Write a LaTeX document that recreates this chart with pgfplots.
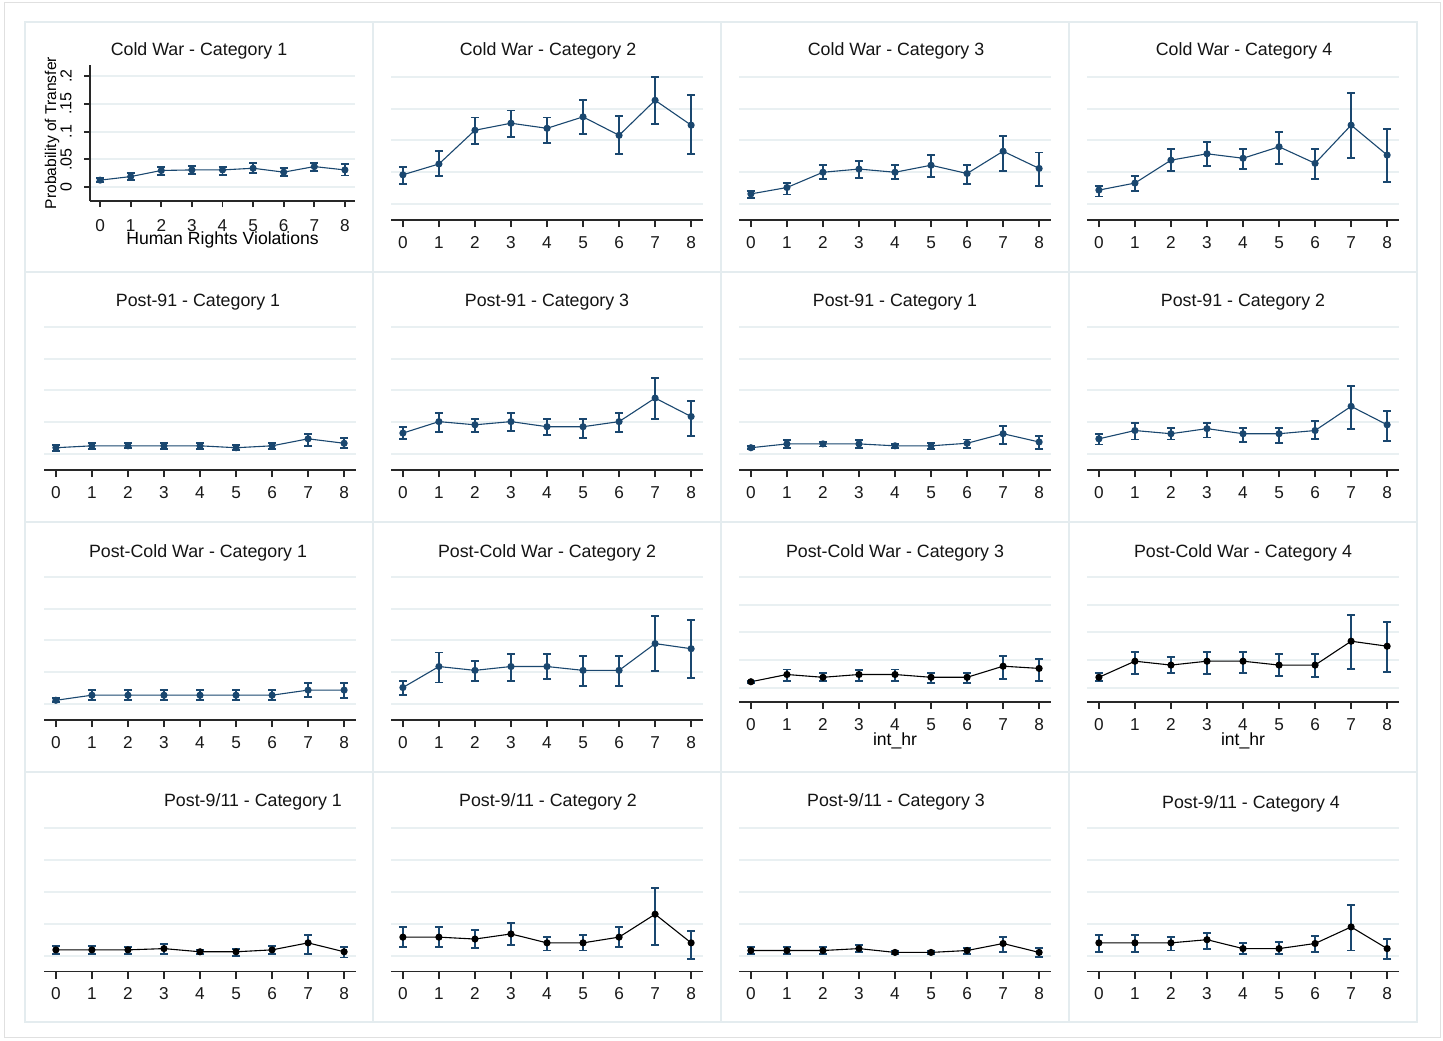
\documentclass[border=0pt]{standalone}
\usepackage{fontspec}
\setmainfont{Liberation Sans}
\usepackage{pgfplots}
\usepackage{pgfplotstable}
\pgfplotsset{compat=1.18}

\definecolor{stnavy}{RGB}{26,71,111}
\definecolor{gridc}{RGB}{233,240,242}
\definecolor{framec}{RGB}{228,236,239}
\definecolor{axisc}{RGB}{40,40,40}

% columns: hr level, predicted probability, lower and upper CI bound
\pgfplotstableread{
x y lo hi
0 0.0126 0.009 0.016
1 0.019 0.013 0.025
2 0.030 0.022 0.036
3 0.031 0.024 0.038
4 0.031 0.022 0.037
5 0.034 0.025 0.043
6 0.027 0.020 0.034
7 0.037 0.029 0.044
8 0.031 0.021 0.041
}\cwA
\pgfplotstableread{
x y lo hi
0 0.046 0.031 0.058
1 0.063 0.044 0.083
2 0.116 0.094 0.136
3 0.127 0.105 0.147
4 0.119 0.096 0.136
5 0.137 0.110 0.163
6 0.108 0.078 0.139
7 0.163 0.126 0.199
8 0.124 0.078 0.171
}\cwB
\pgfplotstableread{
x y lo hi
0 0.016 0.010 0.020
1 0.026 0.015 0.033
2 0.050 0.039 0.062
3 0.055 0.041 0.068
4 0.050 0.039 0.062
5 0.061 0.043 0.077
6 0.048 0.031 0.062
7 0.083 0.052 0.107
8 0.056 0.028 0.081
}\cwC
\pgfplotstableread{
x y lo hi
0 0.022 0.012 0.028
1 0.033 0.020 0.044
2 0.069 0.052 0.086
3 0.079 0.060 0.097
4 0.072 0.055 0.086
5 0.090 0.063 0.113
6 0.064 0.039 0.086
7 0.124 0.073 0.174
8 0.077 0.034 0.118
}\cwD
\pgfplotstableread{
x y lo hi
0 0.010 0.005 0.014
1 0.013 0.008 0.017
2 0.013 0.009 0.017
3 0.013 0.008 0.018
4 0.013 0.008 0.017
5 0.010 0.006 0.014
6 0.013 0.008 0.018
7 0.024 0.013 0.031
8 0.017 0.009 0.025
}\pnA
\pgfplotstableread{
x y lo hi
0 0.033 0.024 0.042
1 0.051 0.034 0.065
2 0.046 0.034 0.055
3 0.051 0.036 0.065
4 0.043 0.030 0.055
5 0.043 0.025 0.055
6 0.051 0.034 0.065
7 0.088 0.055 0.119
8 0.059 0.029 0.084
}\pnB
\pgfplotstableread{
x y lo hi
0 0.010 0.008 0.013
1 0.016 0.009 0.022
2 0.016 0.012 0.019
3 0.016 0.009 0.022
4 0.013 0.010 0.016
5 0.013 0.008 0.018
6 0.017 0.010 0.023
7 0.032 0.016 0.044
8 0.019 0.008 0.029
}\pnC
\pgfplotstableread{
x y lo hi
0 0.024 0.015 0.031
1 0.037 0.023 0.049
2 0.032 0.023 0.041
3 0.040 0.026 0.049
4 0.032 0.019 0.041
5 0.032 0.017 0.041
6 0.037 0.024 0.052
7 0.075 0.039 0.107
8 0.046 0.020 0.068
}\pnD
\pgfplotstableread{
x y lo hi
0 0.006 0.004 0.009
1 0.014 0.006 0.022
2 0.014 0.006 0.022
3 0.014 0.006 0.022
4 0.014 0.006 0.022
5 0.014 0.006 0.022
6 0.014 0.006 0.022
7 0.022 0.011 0.033
8 0.022 0.009 0.033
}\pcA
\pgfplotstableread{
x y lo hi
0 0.026 0.015 0.036
1 0.059 0.034 0.081
2 0.053 0.036 0.068
3 0.059 0.036 0.078
4 0.059 0.039 0.078
5 0.053 0.028 0.075
6 0.053 0.028 0.075
7 0.095 0.052 0.139
8 0.087 0.041 0.132
}\pcB
\pgfplotstableread{
x y lo hi
0 0.011 0.009 0.013
1 0.024 0.012 0.033
2 0.019 0.012 0.027
3 0.024 0.013 0.032
4 0.024 0.013 0.033
5 0.019 0.009 0.027
6 0.019 0.009 0.027
7 0.039 0.016 0.058
8 0.035 0.012 0.052
}\pcC
\pgfplotstableread{
x y lo hi
0 0.019 0.013 0.027
1 0.048 0.025 0.065
2 0.041 0.027 0.055
3 0.048 0.025 0.065
4 0.048 0.027 0.065
5 0.041 0.022 0.061
6 0.041 0.019 0.061
7 0.084 0.034 0.131
8 0.075 0.028 0.119
}\pcD
\pgfplotstableread{
x y lo hi
0 0.009 0.002 0.015
1 0.009 0.002 0.015
2 0.009 0.003 0.013
3 0.011 0.003 0.018
4 0.006 0.003 0.009
5 0.006 0.000 0.010
6 0.009 0.003 0.015
7 0.020 0.003 0.032
8 0.006 -0.003 0.013
}\nsA
\pgfplotstableread{
x y lo hi
0 0.029 0.014 0.045
1 0.029 0.014 0.045
2 0.026 0.012 0.040
3 0.034 0.017 0.051
4 0.020 0.008 0.029
5 0.020 0.008 0.032
6 0.029 0.014 0.045
7 0.065 0.017 0.106
8 0.020 -0.005 0.039
}\nsB
\pgfplotstableread{
x y lo hi
0 0.008 0.002 0.014
1 0.008 0.002 0.014
2 0.008 0.002 0.014
3 0.011 0.005 0.017
4 0.005 0.002 0.007
5 0.005 0.002 0.007
6 0.008 0.003 0.012
7 0.019 0.006 0.029
8 0.005 -0.002 0.012
}\nsC
\pgfplotstableread{
x y lo hi
0 0.020 0.006 0.032
1 0.020 0.006 0.032
2 0.020 0.008 0.029
3 0.025 0.011 0.035
4 0.011 0.003 0.020
5 0.011 0.002 0.022
6 0.019 0.006 0.031
7 0.045 0.008 0.080
8 0.011 -0.005 0.026
}\nsD

\pgfplotsset{
  stata/.style={
    scale only axis,
    width=156pt, height=78pt,
    xmin=-0.33, xmax=8.33, ymin=-0.025, ymax=0.22,
    axis x line*=bottom, axis y line*=left,
    x axis line style={line width=0.9pt, color=axisc},
    y axis line style={draw=none},
    xtick={0,...,8},
    ytick={0,0.05,0.1,0.15,0.2},
    yticklabels={}, ytick style={draw=none},
    ymajorgrids, grid style={color=gridc, line width=1pt},
    tick align=outside, major tick length=3.5pt,
    xtick style={line width=0.9pt, color=axisc},
    xticklabel style={anchor=base, yshift=-10.5pt, font=\fontsize{8.6}{10}\selectfont, text=black!90},
    /pgf/number format/assume math mode=true,
    clip=false, anchor=south west,
  },
  short/.style={height=68pt},
  ci/.style={
    table/x=x, table/y=y,
    table/y error plus expr=\thisrow{hi}-\thisrow{y},
    table/y error minus expr=\thisrow{y}-\thisrow{lo},
  },
  navyfit/.style={color=stnavy, line width=0.55pt, mark=*, mark size=1.5pt,
    mark options={fill=stnavy, draw=stnavy},
    error bars/.cd, y dir=both, y explicit,
    error bar style={line width=0.95pt, color=stnavy},
    error mark options={rotate=90, mark size=2pt, line width=0.95pt, color=stnavy}},
  blackfit/.style={color=black, line width=0.55pt, mark=*, mark size=1.5pt,
    mark options={fill=black, draw=black},
    error bars/.cd, y dir=both, y explicit,
    error bar style={line width=0.95pt, color=stnavy},
    error mark options={rotate=90, mark size=2pt, line width=0.95pt, color=stnavy}},
}

\begin{document}
\begin{tikzpicture}
% page and panel frames
\fill[white] (0,0) rectangle (721.5pt,-520pt);
\draw[black!12, line width=0.5pt] (2pt,-1pt) rectangle (720pt,-518.5pt);
\foreach \cx in {12.5,186.5,360.5,534.5}{
  \foreach \cy in {-11,-136,-261,-386}{
    \draw[framec, line width=1pt] (\cx pt,\cy pt) rectangle ++(174pt,-125pt);
  }
}

% ---- Cold War ----
\begin{axis}[stata, short, width=132.5pt, at={(45pt,-100.5pt)},
  y axis line style={draw, line width=0.9pt, color=axisc},
  ytick style={draw, line width=0.9pt, color=axisc},
  major tick length=3pt,
  yticklabels={0,.05,.1,.15,.2},
  yticklabel style={xshift=-9pt, rotate=90, anchor=center, font=\fontsize{8}{9}\selectfont},
  xticklabel style={yshift=-1.5pt},
  xlabel={Human Rights Violations},
  xlabel style={at={(axis description cs:0.5,0)}, anchor=center, yshift=-19.3pt, font=\fontsize{8.8}{10}\selectfont},
  ylabel={Probability of Transfer},
  ylabel style={at={(axis description cs:-0.143,0.5)}, anchor=center, font=\fontsize{7.8}{9}\selectfont}]
\addplot[navyfit] table[ci] {\cwA};
\end{axis}
\begin{axis}[stata, at={(195.5pt,-110pt)}]
\addplot[navyfit] table[ci] {\cwB};
\end{axis}
\begin{axis}[stata, at={(369.5pt,-110pt)}]
\addplot[navyfit] table[ci] {\cwC};
\end{axis}
\begin{axis}[stata, at={(543.5pt,-110pt)}]
\addplot[navyfit] table[ci] {\cwD};
\end{axis}

% ---- Post-91 ----
\begin{axis}[stata, at={(22pt,-235pt)}]
\addplot[navyfit] table[ci] {\pnA};
\end{axis}
\begin{axis}[stata, at={(195.5pt,-235pt)}]
\addplot[navyfit] table[ci] {\pnB};
\end{axis}
\begin{axis}[stata, at={(369.5pt,-235pt)}]
\addplot[navyfit] table[ci] {\pnC};
\end{axis}
\begin{axis}[stata, at={(543.5pt,-235pt)}]
\addplot[navyfit] table[ci] {\pnD};
\end{axis}

% ---- Post-Cold War ----
\begin{axis}[stata, at={(22pt,-360pt)}]
\addplot[navyfit] table[ci] {\pcA};
\end{axis}
\begin{axis}[stata, at={(195.5pt,-360pt)}]
\addplot[navyfit] table[ci] {\pcB};
\end{axis}
\begin{axis}[stata, short, at={(369.5pt,-350.85pt)},
  xticklabel style={yshift=-0.5pt},
  xlabel={int\_hr},
  xlabel style={at={(axis description cs:0.5,0)}, anchor=center, yshift=-19.5pt, font=\fontsize{8.8}{10}\selectfont}]
\addplot[blackfit] table[ci] {\pcC};
\end{axis}
\begin{axis}[stata, short, at={(543.5pt,-350.85pt)},
  xticklabel style={yshift=-0.5pt},
  xlabel={int\_hr},
  xlabel style={at={(axis description cs:0.5,0)}, anchor=center, yshift=-19.5pt, font=\fontsize{8.8}{10}\selectfont}]
\addplot[blackfit] table[ci] {\pcD};
\end{axis}

% ---- Post-9/11 ----
\begin{axis}[stata, at={(22pt,-485.75pt)}]
\addplot[blackfit] table[ci] {\nsA};
\end{axis}
\begin{axis}[stata, at={(195.5pt,-485.75pt)}]
\addplot[blackfit] table[ci] {\nsB};
\end{axis}
\begin{axis}[stata, at={(369.5pt,-485.75pt)}]
\addplot[blackfit] table[ci] {\nsC};
\end{axis}
\begin{axis}[stata, at={(543.5pt,-485.75pt)}]
\addplot[blackfit] table[ci] {\nsD};
\end{axis}

% panel titles
\begin{scope}[every node/.style={font=\fontsize{8.9}{10}\selectfont, text=black!92, anchor=center}]
\node at (99.5pt,-25.5pt) {Cold War - Category 1};
\node at (274pt,-25.5pt) {Cold War - Category 2};
\node at (448pt,-25.5pt) {Cold War - Category 3};
\node at (622pt,-25.5pt) {Cold War - Category 4};
\node at (99pt,-151pt) {Post-91 - Category 1};
\node at (273.5pt,-151pt) {Post-91 - Category 3};
\node at (447.5pt,-151pt) {Post-91 - Category 1};
\node at (621.5pt,-151pt) {Post-91 - Category 2};
\node at (99pt,-276.5pt) {Post-Cold War - Category 1};
\node at (273.5pt,-276.5pt) {Post-Cold War - Category 2};
\node at (447.5pt,-276.5pt) {Post-Cold War - Category 3};
\node at (621.5pt,-276.5pt) {Post-Cold War - Category 4};
\node at (126.5pt,-401pt) {Post-9/11 - Category 1};
\node at (274pt,-401pt) {Post-9/11 - Category 2};
\node at (448pt,-401pt) {Post-9/11 - Category 3};
\node at (625.5pt,-402pt) {Post-9/11 - Category 4};
\end{scope}
\end{tikzpicture}
\end{document}
